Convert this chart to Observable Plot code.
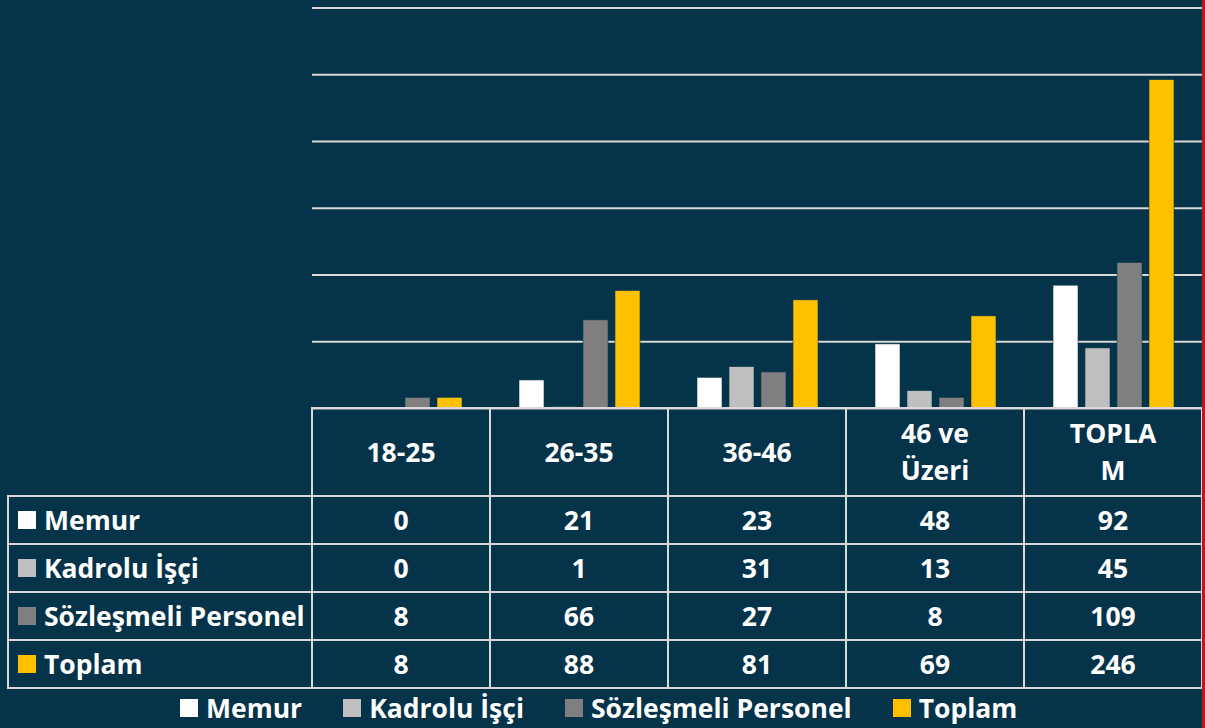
<!DOCTYPE html>
<html>
<head>
<meta charset="utf-8">
<script src="https://cdn.jsdelivr.net/npm/d3@7"></script>
<script src="https://cdn.jsdelivr.net/npm/@observablehq/plot@0.6"></script>
<style>
  html, body { margin: 0; padding: 0; background: #053349; }
  #wrap { position: relative; width: 1205px; height: 728px; overflow: hidden; background: #053349;
          font-family: "Open Sans", sans-serif; font-weight: 700; color: #FFFFFF; }
  #chart { position: absolute; left: 0; top: 0; }
  .cell { position: absolute; box-sizing: border-box; border: 2px solid #D9D9D9;
          display: flex; align-items: center; justify-content: center; text-align: center;
          font-size: 26.5px; line-height: 1; }
  .cell.hdr { flex-direction: column; line-height: 37px; }
  .cell.lbl { justify-content: flex-start; padding-left: 9px; }
  .sw { display: inline-block; width: 18px; height: 18px; margin-right: 8px; flex: none; }
  #legend { position: absolute; left: 180px; top: 694px; height: 28px;
            display: flex; justify-content: flex-start; align-items: center; gap: 41px; font-size: 26.5px; line-height: 1; white-space: nowrap; }
  #legend .item { display: flex; align-items: center; }
  #redline { position: absolute; left: 1202px; top: 0; width: 3px; height: 728px; background: #C0161E; }
</style>
</head>
<body>
<div id="wrap">
  <div id="chart"></div>
  <div id="table"></div>
  <div id="legend"></div>
  <div id="redline"></div>
</div>
<script>
// ---- data ----
const groups = ["18-25", "26-35", "36-46", "46 ve Üzeri", "TOPLAM"];
const groupLines = [["18-25"], ["26-35"], ["36-46"], ["46 ve", "Üzeri"], ["TOPLA", "M"]];
const series = ["Memur", "Kadrolu İşçi", "Sözleşmeli Personel", "Toplam"];
const seriesColors = ["#FFFFFF", "#BFBFBF", "#7F7F7F", "#FFC000"];
const memur = [0, 21, 23, 48, 92];
const kadroluIsci = [0, 1, 31, 13, 45];
const sozlesmeli = [8, 66, 27, 8, 109];
const toplam = [8, 88, 81, 69, 246];
const yTicks = [50, 100, 150, 200, 250, 300];

const seriesValues = [memur, kadroluIsci, sozlesmeli, toplam];
const data = series.flatMap((s, si) => groups.map((g, gi) => ({group: g, series: s, value: seriesValues[si][gi]})));

// ---- chart ----
const chart = Plot.plot({
  width: 1205,
  height: 410,
  marginLeft: 312,
  marginRight: 3,
  marginTop: 7.5,
  marginBottom: 2,
  style: {background: "transparent", overflow: "visible"},
  fx: {domain: groups, padding: 0, axis: null},
  x: {domain: series, paddingInner: 0.22, paddingOuter: 0.85, axis: null},
  y: {domain: [0, 300], axis: null},
  color: {domain: series, range: seriesColors},
  marks: [
    Plot.ruleY(yTicks, {stroke: "#D9D9D9", strokeWidth: 2}),
    Plot.barY(data, {fx: "group", x: "series", y: "value", fill: "series", stroke: "#0a3a52", strokeWidth: 0.6}),
    Plot.ruleY([0], {stroke: "#D9D9D9", strokeWidth: 2})
  ]
});
document.getElementById("chart").appendChild(chart);

// ---- data table ----
const xb = [8, 312, 490, 668, 846, 1024, 1202];
const yb = [408, 496, 544, 592, 640, 688];
const table = document.getElementById("table");
function addCell(r, c, cls, html) {
  const d = document.createElement("div");
  d.className = "cell " + cls;
  d.style.left = (xb[c] - 1) + "px";
  d.style.top = (yb[r] - 1) + "px";
  d.style.width = (xb[c + 1] - xb[c] + 2) + "px";
  d.style.height = (yb[r + 1] - yb[r] + 2) + "px";
  d.innerHTML = html;
  table.appendChild(d);
}
groupLines.forEach((lines, gi) => {
  addCell(0, gi + 1, "hdr", lines.map(l => `<span>${l}</span>`).join(""));
});
series.forEach((s, si) => {
  addCell(si + 1, 0, "lbl", `<span class="sw" style="background:${seriesColors[si]}"></span><span>${s}</span>`);
  groups.forEach((g, gi) => addCell(si + 1, gi + 1, "", String(seriesValues[si][gi])));
});

// ---- legend ----
const legend = document.getElementById("legend");
series.forEach((s, si) => {
  const it = document.createElement("div");
  it.className = "item";
  it.innerHTML = `<span class="sw" style="background:${seriesColors[si]}"></span><span>${s}</span>`;
  legend.appendChild(it);
});
</script>
</body>
</html>
